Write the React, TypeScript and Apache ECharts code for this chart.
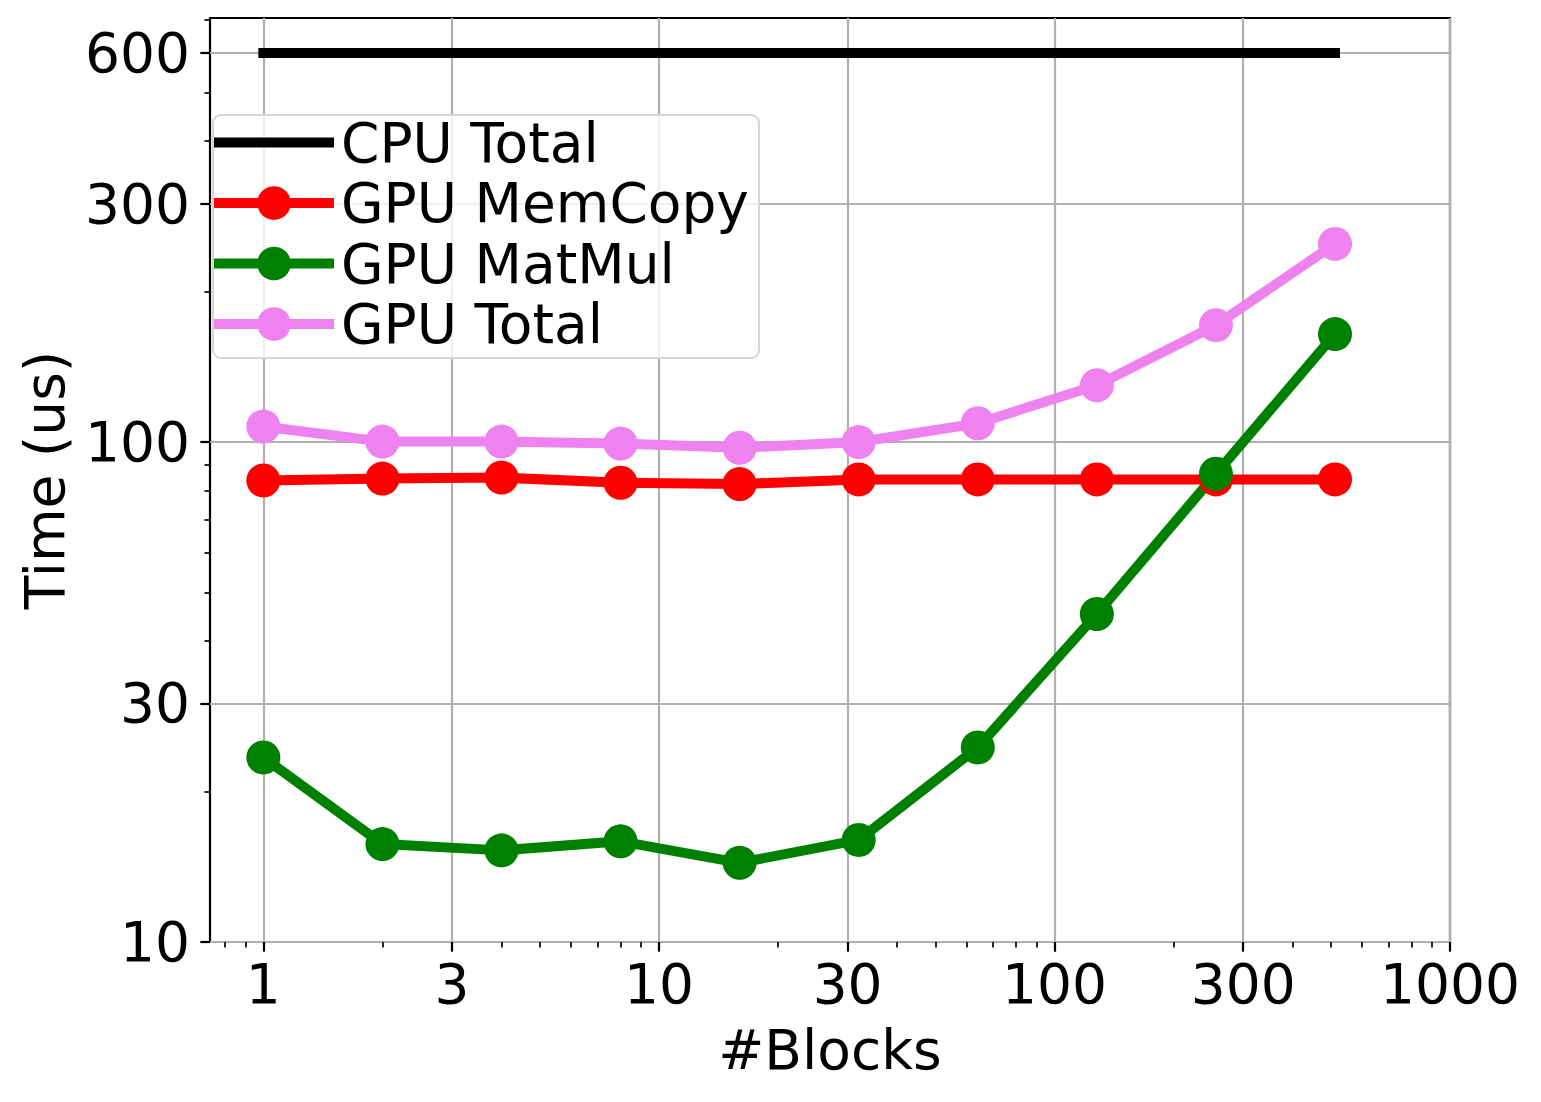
import React, { useEffect, useRef } from "react";
import * as echarts from "echarts";

const blocks = [1, 2, 4, 8, 16, 32, 64, 128, 256, 512];
const cpuTotal = [600, 600, 600, 600, 600, 600, 600, 600, 600, 600];
const gpuMemCopy = [83.8, 84.5, 84.9, 82.9, 82.4, 84.2, 84.2, 84.2, 84.2, 84.2];
const gpuMatMul = [23.4, 15.7, 15.25, 15.9, 14.4, 16.0, 24.5, 45.3, 86.4, 164.4];
const gpuTotal = [107.4, 100.2, 100.2, 99.3, 97.4, 100.0, 109.0, 129.9, 171.3, 249.1];

const xTickLabels = [1, 3, 10, 30, 100, 300, 1000];
const yTickLabels = [10, 30, 100, 300, 600];
const xMinorTicks = [0.8, 0.9, 2, 4, 5, 6, 7, 8, 9, 20, 40, 50, 60, 70, 80, 90, 200, 400, 500, 600, 700, 800, 900];
const yMinorTicks = [20, 40, 50, 60, 70, 80, 90, 200, 400, 500, 700];

const seriesNames = ["CPU Total", "GPU MemCopy", "GPU MatMul", "GPU Total"];
const seriesColors = ["#000000", "#ff0000", "#008000", "#ee82ee"];

const X_MIN = 0.733;
const X_MAX = 1000;
const Y_MIN = 10;
const Y_MAX = 705;

const FONT = "DejaVu Sans";
const lg = (v: number) => Math.log10(v);
const fmt = (v: number) => String(Math.round(Math.pow(10, v)));

export default function App() {
  const ref = useRef<HTMLDivElement>(null);
  useEffect(() => {
    if (!ref.current) return;
    const chart = echarts.init(ref.current, null, { renderer: "svg" });
    const valuesList = [cpuTotal, gpuMemCopy, gpuMatMul, gpuTotal];
    const series = valuesList.map((vals, i) => ({
      name: seriesNames[i],
      type: "line",
      xAxisIndex: 0,
      yAxisIndex: 0,
      data: blocks.map((b, j) => [lg(b), lg(vals[j])]),
      symbol: i === 0 ? "none" : "circle",
      symbolSize: 34,
      showSymbol: i !== 0,
      lineStyle: { width: 10, color: seriesColors[i], cap: i === 0 ? "square" : "butt" },
      itemStyle: { color: seriesColors[i] },
      emphasis: { disabled: true },
      z: 3,
    }));

    const tickLine = { color: "#000", width: 2.2 };
    const minorLine = { color: "#000", width: 1.7 };
    const labelStyle = { fontSize: 55, color: "#000", fontFamily: FONT };

    chart.setOption({
      animation: false,
      grid: {
        left: 210,
        top: 18,
        right: 91,
        bottom: 160,
        show: true,
        borderColor: "#000",
        borderWidth: 2.2,
        backgroundColor: "transparent",
      },
      graphic: [
        {
          type: "rect",
          z: 8,
          shape: { x: 213, y: 115, width: 546, height: 243, r: 8 },
          style: { fill: "rgba(255,255,255,0.8)", stroke: "#d6d6d6", lineWidth: 2 },
        },
      ],
      legend: {
        orient: "vertical",
        left: 209,
        top: 115,
        itemWidth: 120,
        itemHeight: 42,
        itemGap: 5.5,
        padding: [0, 0, 0, 0],
        backgroundColor: "transparent",
        borderWidth: 0,
        lineStyle: { width: 10, cap: "butt" },
        textStyle: { fontSize: 55, color: "#000", fontFamily: FONT, padding: [0, 0, 0, 2] },
        data: [
          { name: seriesNames[0], icon: "path://M0,0H120V10H0Z" },
          { name: seriesNames[1] },
          { name: seriesNames[2] },
          { name: seriesNames[3] },
        ],
        z: 10,
      },
      xAxis: [
        {
          type: "value",
          min: lg(X_MIN),
          max: lg(X_MAX),
          position: "bottom",
          name: "#Blocks",
          nameLocation: "middle",
          nameGap: 80,
          nameTextStyle: { fontSize: 55, color: "#000", fontFamily: FONT },
          axisLine: { show: false, onZero: false },
          axisTick: { show: true, length: 9.7, lineStyle: tickLine, customValues: xTickLabels.map(lg) },
          axisLabel: { ...labelStyle, margin: 14, customValues: xTickLabels.map(lg), formatter: fmt, showMinLabel: true, showMaxLabel: true },
          splitLine: { show: true, lineStyle: { color: "#b0b0b0", width: 2.2 } },
        },
        {
          type: "value",
          min: lg(X_MIN),
          max: lg(X_MAX),
          position: "bottom",
          axisLine: { show: false, onZero: false },
          axisTick: { show: true, length: 5.5, lineStyle: minorLine, customValues: xMinorTicks.map(lg) },
          axisLabel: { show: false },
          splitLine: { show: false },
        },
      ],
      yAxis: [
        {
          type: "value",
          min: lg(Y_MIN),
          max: lg(Y_MAX),
          position: "left",
          name: "Time (us)",
          nameLocation: "middle",
          nameGap: 138,
          nameTextStyle: { fontSize: 55, color: "#000", fontFamily: FONT },
          axisLine: { show: false, onZero: false },
          axisTick: { show: true, length: 9.7, lineStyle: tickLine, customValues: yTickLabels.map(lg) },
          axisLabel: { ...labelStyle, margin: 20, customValues: yTickLabels.map(lg), formatter: fmt, showMinLabel: true, showMaxLabel: true },
          splitLine: { show: true, lineStyle: { color: "#b0b0b0", width: 2.2 } },
        },
        {
          type: "value",
          min: lg(Y_MIN),
          max: lg(Y_MAX),
          position: "left",
          axisLine: { show: false, onZero: false },
          axisTick: { show: true, length: 5.5, lineStyle: minorLine, customValues: yMinorTicks.map(lg) },
          axisLabel: { show: false },
          splitLine: { show: false },
        },
      ],
      series,
    });
    return () => chart.dispose();
  }, []);
  return (
    <div
      ref={ref}
      style={{ position: "fixed", left: 0, top: 0, width: 1541, height: 1102, background: "#fff" }}
    />
  );
}
